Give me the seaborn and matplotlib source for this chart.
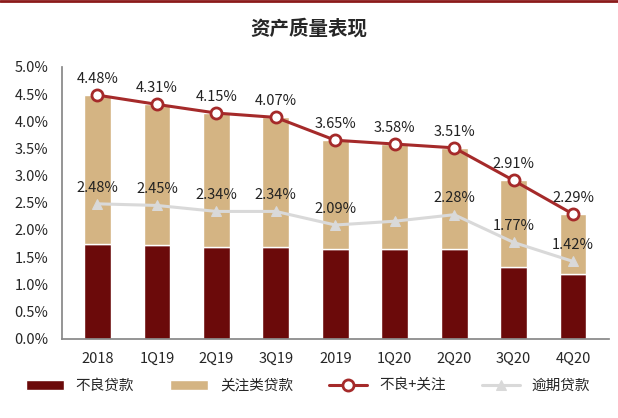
import matplotlib.pyplot as plt
import seaborn as sns
import pandas as pd
from matplotlib.ticker import PercentFormatter

sns.set_theme(style="white")
plt.rcParams["font.family"] = "Noto Sans CJK SC"

quarters = ["2018", "1Q19", "2Q19", "3Q19", "2019", "1Q20", "2Q20", "3Q20", "4Q20"]
npl = [1.74, 1.72, 1.68, 1.68, 1.65, 1.65, 1.65, 1.32, 1.18]
npl_plus_watch = [4.48, 4.31, 4.15, 4.07, 3.65, 3.58, 3.51, 2.91, 2.29]
overdue = [2.48, 2.45, 2.34, 2.34, 2.09, 2.16, 2.28, 1.77, 1.42]
overdue_labels = [2.48, 2.45, 2.34, 2.34, 2.09, None, 2.28, 1.77, 1.42]
watch = [t - n for t, n in zip(npl_plus_watch, npl)]

df = pd.DataFrame({"q": quarters, "npl": npl, "watch": watch,
                   "total": npl_plus_watch, "overdue": overdue})

fig, ax = plt.subplots(figsize=(6.18, 4.18), dpi=100)
x = range(len(quarters))
ax.bar(x, df["npl"], width=0.45, color="#6b0a0a", label="不良贷款")
ax.bar(x, df["watch"], bottom=df["npl"], width=0.45, color="#d4b483", label="关注类贷款")
sns.lineplot(x=list(x), y=df["total"], ax=ax, color="#a52a2a", lw=2.2, marker="o",
             markersize=8, markerfacecolor="white", markeredgecolor="#a52a2a",
             markeredgewidth=2, label="不良+关注")
sns.lineplot(x=list(x), y=df["overdue"], ax=ax, color="#d9d9d9", lw=2.2, marker="^",
             markersize=7, markeredgecolor="#d9d9d9", label="逾期贷款")

for i, v in enumerate(npl_plus_watch):
    ax.text(i, v + 0.17, f"{v:.2f}%", ha="center", va="bottom", fontsize=10.5, color="#222222")
for i, v in enumerate(overdue_labels):
    if v is not None:
        ax.text(i, v + 0.17, f"{v:.2f}%", ha="center", va="bottom", fontsize=10.5, color="#222222")

ax.set_xticks(list(x))
ax.set_xticklabels(quarters, fontsize=10.5)
ax.set_ylim(0, 5.0)
ax.set_yticks([i * 0.5 for i in range(11)])
ax.yaxis.set_major_formatter(PercentFormatter(decimals=1))
ax.tick_params(axis="y", labelsize=10.5)
ax.set_xlim(-0.6, len(quarters) - 0.4)
for s in ["top", "right"]:
    ax.spines[s].set_visible(False)
ax.spines["left"].set_color("#888888")
ax.spines["bottom"].set_color("#888888")
ax.set_xlabel("")
ax.set_ylabel("")

handles, labels = ax.get_legend_handles_labels()
order = [labels.index(n) for n in ["不良贷款", "关注类贷款", "不良+关注", "逾期贷款"]]
ax.legend([handles[i] for i in order], [labels[i] for i in order],
          loc="upper center", bbox_to_anchor=(0.45, -0.1), ncol=4, frameon=False,
          fontsize=10.5, handlelength=2.6, columnspacing=2.5)
fig.suptitle("资产质量表现", fontsize=14, fontweight="bold", y=0.955)
fig.add_artist(plt.Line2D([0, 1], [0.997, 0.997], color="#8b1a1a", lw=2))
fig.subplots_adjust(left=0.1, right=0.985, top=0.84, bottom=0.19)
fig.savefig("out.png", dpi=100)
